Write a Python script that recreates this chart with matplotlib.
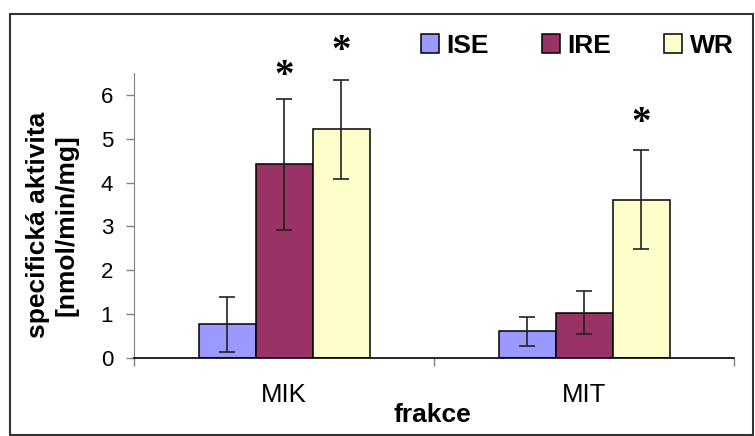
import matplotlib.pyplot as plt
import numpy as np
from matplotlib.patches import Rectangle

# data
fractions = ['MIK', 'MIT']
groups = ['ISE', 'IRE', 'WR']
ise = [0.77, 0.61]
ise_err = [0.62, 0.33]
ire = [4.42, 1.04]
ire_err = [1.49, 0.49]
wr = [5.21, 3.61]
wr_err = [1.13, 1.12]
# significance marks (*): baseline height, None = no mark
ise_star = [None, None]
ire_star = [6.20, None]
wr_star = [6.77, 5.12]

colors = ['#9999FF', '#993366', '#FFFFCC']

plt.rcParams['font.family'] = ['Liberation Sans', 'DejaVu Sans']

fig = plt.figure(figsize=(7.55, 4.36), dpi=100)
ax = fig.add_axes([134 / 755, 1 - 358.3 / 436, 600 / 755, 285.6 / 436])

x = np.arange(len(fractions))
width = 0.19
series = [(ise, ise_err, ise_star), (ire, ire_err, ire_star), (wr, wr_err, wr_star)]
for i, (vals, errs, stars) in enumerate(series):
    pos = x + (i - 1) * width
    ax.bar(pos, vals, width, color=colors[i], edgecolor='black', linewidth=1.1,
           label=groups[i], zorder=2)
    ax.errorbar(pos, vals, yerr=errs, fmt='none', ecolor='#222222',
                elinewidth=1.2, capsize=5.5, capthick=1.2, zorder=3)
    for p, s in zip(pos, stars):
        if s is not None:
            ax.text(p, s, '*', ha='center', va='baseline', fontsize=28,
                    family='Liberation Serif', fontweight='bold', clip_on=False)

ax.set_xlim(-0.5, 1.5)
ax.set_ylim(0, 6.5)
ax.set_yticks(range(7))
ax.set_xticks(x)
ax.set_xticklabels(fractions, fontsize=18.5)
ax.set_xticks([-0.5, 0.5, 1.5], minor=True)
ax.tick_params(axis='x', which='major', length=0, pad=18)
ax.tick_params(axis='x', which='minor', length=6, width=1, color='#808080')
ax.tick_params(axis='y', length=6, width=1, color='#808080', labelsize=16, pad=9)

for s in ['top', 'right']:
    ax.spines[s].set_visible(False)
ax.spines['left'].set_color('#808080')
ax.spines['bottom'].set_color('black')
ax.spines['bottom'].set_linewidth(1.2)

ax.set_xlabel('frakce', fontsize=19, fontweight='bold')
ax.xaxis.set_label_coords(0.497, -0.155)
ax.set_ylabel('specifická aktivita\n[nmol/min/mg]', fontsize=19,
              fontweight='bold', linespacing=1.25, va='center')
ax.yaxis.set_label_coords(-0.136, 0.467)

fig.legend(loc='center left', bbox_to_anchor=(420.7 / 755, 1 - 45.7 / 436),
           ncol=3, frameon=False, prop={'size': 19, 'weight': 'bold'},
           handlelength=0.68, handleheight=0.68, handletextpad=0.3,
           columnspacing=2.0, borderpad=0, borderaxespad=0)

# outer chart border
fig.patches.append(Rectangle((10 / 755, 0.002), 1 - 10 / 755 - 0.003, 1 - 14 / 436 - 0.002,
                             transform=fig.transFigure, fill=False,
                             edgecolor='#333333', linewidth=1.5))

fig.savefig('out.png', dpi=100)
